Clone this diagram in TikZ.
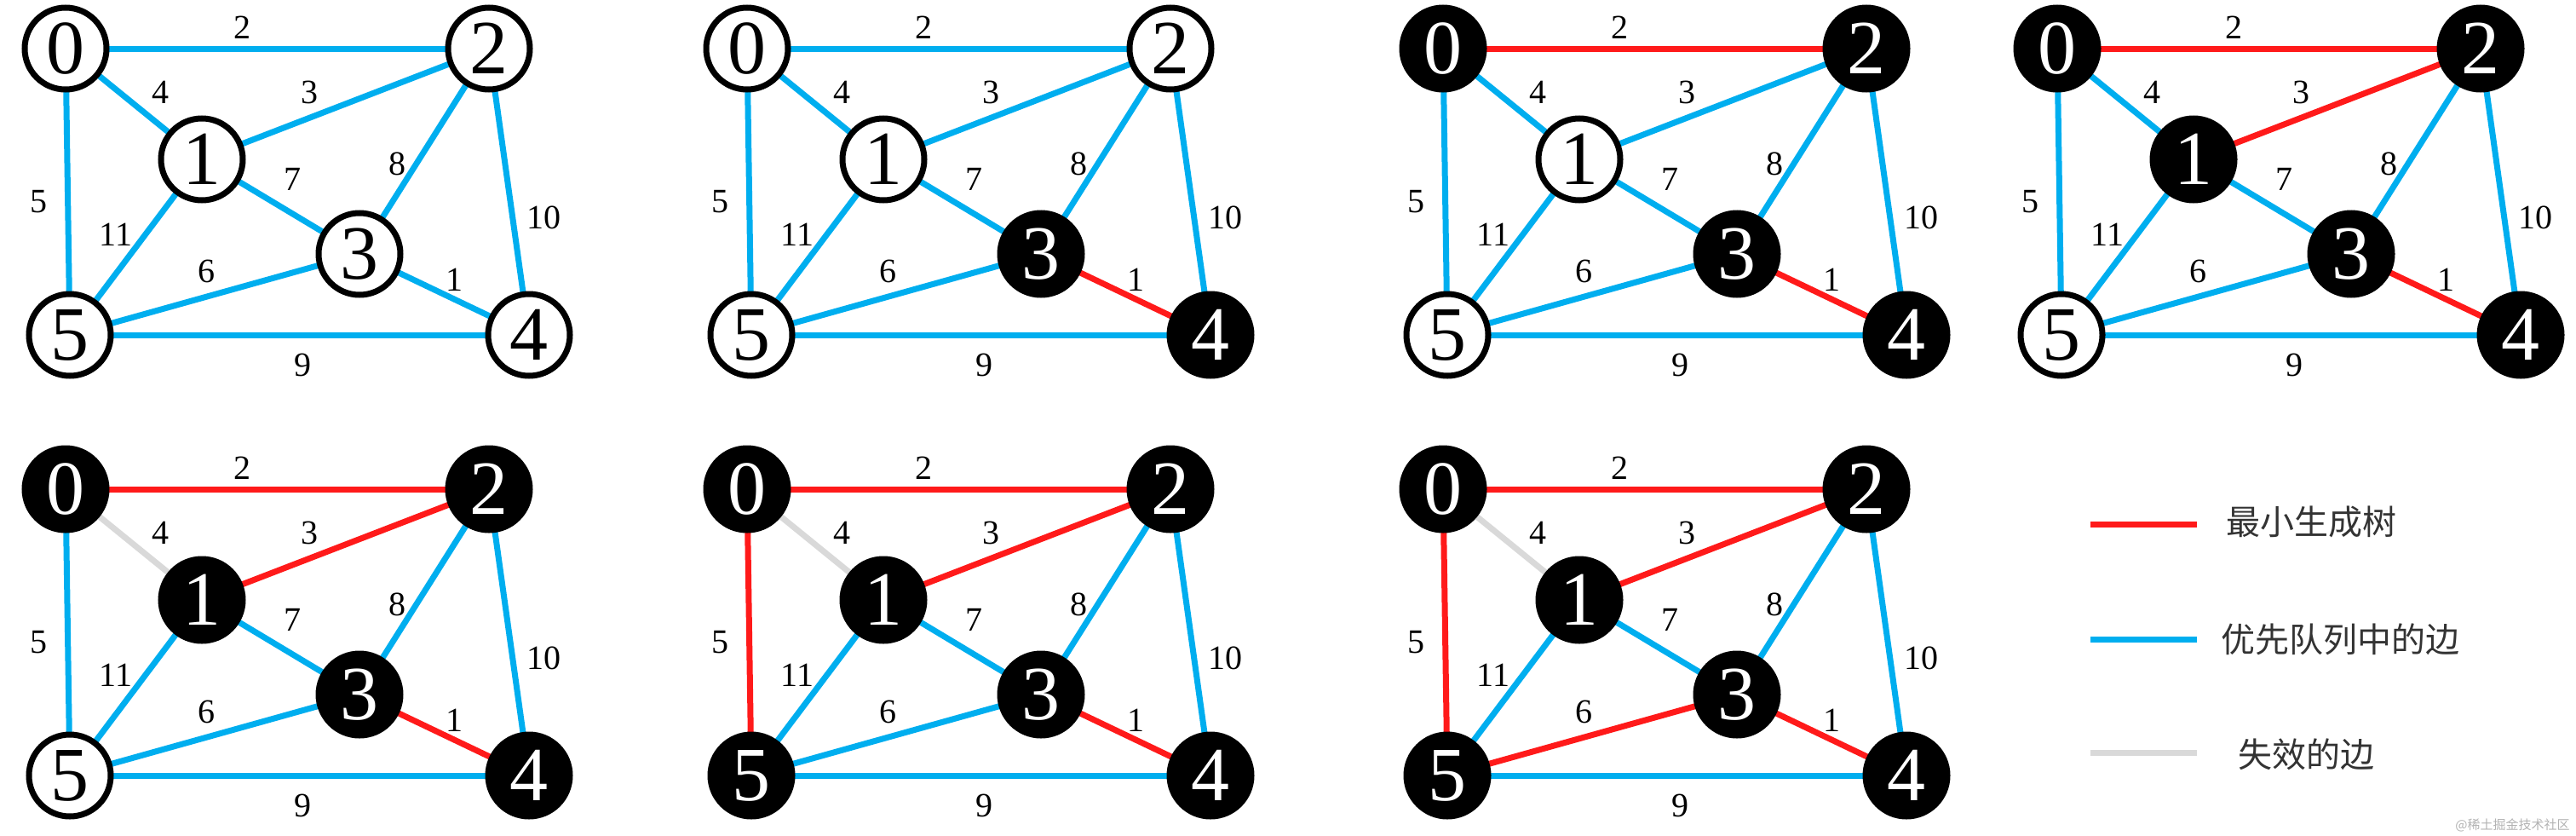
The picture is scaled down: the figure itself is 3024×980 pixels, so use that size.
\documentclass[tikz,border=0pt]{standalone}
\usepackage{fontspec}
\setmainfont{Liberation Serif}
\newfontfamily\cjk{Noto Sans CJK SC}
\definecolor{qblue}{RGB}{0,174,239}
\definecolor{mred}{RGB}{255,26,26}
\definecolor{dgray}{RGB}{217,217,217}
\tikzset{
  vx/.style={circle,draw=black,line width=7pt,minimum size=96pt,inner sep=0pt,font=\fontsize{90}{90}\selectfont},
  wn/.style={vx,fill=white,text=black},
  bn/.style={vx,fill=black,text=white},
  be/.style={draw=qblue,line width=7pt},
  re/.style={draw=mred,line width=7pt},
  ge/.style={draw=dgray,line width=7pt},
  lab/.style={font=\fontsize{40}{40}\selectfont,inner sep=0pt},
}
\newcommand\drawgraph[1]{%
  \coordinate (#1c0) at (77,57);
  \coordinate (#1c2) at (574,57);
  \coordinate (#1c1) at (237,187);
  \coordinate (#1c3) at (422,298);
  \coordinate (#1c5) at (82,393);
  \coordinate (#1c4) at (621,393);
  \path[e02] (#1c0) -- (#1c2);
  \path[e01] (#1c0) -- (#1c1);
  \path[e12] (#1c1) -- (#1c2);
  \path[e13] (#1c1) -- (#1c3);
  \path[e23] (#1c2) -- (#1c3);
  \path[e05] (#1c0) -- (#1c5);
  \path[e15] (#1c1) -- (#1c5);
  \path[e24] (#1c2) -- (#1c4);
  \path[e35] (#1c3) -- (#1c5);
  \path[e34] (#1c3) -- (#1c4);
  \path[e54] (#1c5) -- (#1c4);
  \node[n0] (#1n0) at (#1c0) {0};
  \node[n1] (#1n1) at (#1c1) {1};
  \node[n2] (#1n2) at (#1c2) {2};
  \node[n3] (#1n3) at (#1c3) {3};
  \node[n4] (#1n4) at (#1c4) {4};
  \node[n5] (#1n5) at (#1c5) {5};
  \node[lab] (#1l02) at (284,32) {2};
  \node[lab] (#1l01) at (188,108) {4};
  \node[lab] (#1l12) at (363,108) {3};
  \node[lab] (#1l13) at (343,210) {7};
  \node[lab] (#1l23) at (466,192) {8};
  \node[lab] (#1l05) at (45,237) {5};
  \node[lab] (#1l15) at (136,275) {11};
  \node[lab] (#1l24) at (638,255) {10};
  \node[lab] (#1l35) at (242,318) {6};
  \node[lab] (#1l34) at (533,328) {1};
  \node[lab] (#1l54) at (355,428) {9};
}
\newcommand\setstate[2]{% #1 node styles n0..n5 ; #2 edge styles
  \tikzset{#1,#2}}
\begin{document}
\begin{tikzpicture}[x=1pt,y=-1pt]
\useasboundingbox (0,0) rectangle (3024,980);
\tikzset{n0/.style=wn,n1/.style=wn,n2/.style=wn,n3/.style=wn,n4/.style=wn,n5/.style=wn,
  e02/.style=be,e01/.style=be,e12/.style=be,e13/.style=be,e23/.style=be,e05/.style=be,
  e15/.style=be,e24/.style=be,e35/.style=be,e34/.style=be,e54/.style=be}
% graph 1
\begin{scope}
\drawgraph{a}
\end{scope}
% graph 2
\begin{scope}[shift={(800,0)}]
\tikzset{n3/.style=bn,n4/.style=bn,e34/.style=re}
\drawgraph{b}
\end{scope}
% graph 3
\begin{scope}[shift={(1617,0)}]
\tikzset{n0/.style=bn,n2/.style=bn,n3/.style=bn,n4/.style=bn,e34/.style=re,e02/.style=re}
\drawgraph{c}
\end{scope}
% graph 4
\begin{scope}[shift={(2338,0)}]
\tikzset{n0/.style=bn,n1/.style=bn,n2/.style=bn,n3/.style=bn,n4/.style=bn,e34/.style=re,e02/.style=re,e12/.style=re}
\drawgraph{d}
\end{scope}
% graph 5
\begin{scope}[shift={(0,517)}]
\tikzset{n0/.style=bn,n1/.style=bn,n2/.style=bn,n3/.style=bn,n4/.style=bn,e34/.style=re,e02/.style=re,e12/.style=re,e01/.style=ge}
\drawgraph{e}
\end{scope}
% graph 6
\begin{scope}[shift={(800,517)}]
\tikzset{n0/.style=bn,n1/.style=bn,n2/.style=bn,n3/.style=bn,n4/.style=bn,n5/.style=bn,e34/.style=re,e02/.style=re,e12/.style=re,e01/.style=ge,e05/.style=re}
\drawgraph{f}
\end{scope}
% graph 7
\begin{scope}[shift={(1617,517)}]
\tikzset{n0/.style=bn,n1/.style=bn,n2/.style=bn,n3/.style=bn,n4/.style=bn,n5/.style=bn,e34/.style=re,e02/.style=re,e12/.style=re,e01/.style=ge,e05/.style=re,e35/.style=re}
\drawgraph{g}
\end{scope}
% legend
\coordinate (ra) at (2454,615); \coordinate (rb) at (2579,615);
\coordinate (ba) at (2454,750); \coordinate (bb) at (2579,750);
\coordinate (ga) at (2454,883); \coordinate (gb) at (2579,883);
\draw[re] (ra) -- (rb);
\draw[be] (ba) -- (bb);
\draw[ge] (ga) -- (gb);
\node[anchor=west,font=\cjk\fontsize{40}{40}\selectfont,text=black!80] (tr) at (2610,612) {最小生成树};
\node[anchor=west,font=\cjk\fontsize{40}{40}\selectfont,text=black!80] (tb) at (2604,750) {优先队列中的边};
\node[anchor=west,font=\cjk\fontsize{40}{40}\selectfont,text=black!80] (tg) at (2624,885) {失效的边};
\node[anchor=east,font=\cjk\fontsize{15}{15}\selectfont,text=black!30] (wm) at (3020,968) {@稀土掘金技术社区};
\end{tikzpicture}
\end{document}
